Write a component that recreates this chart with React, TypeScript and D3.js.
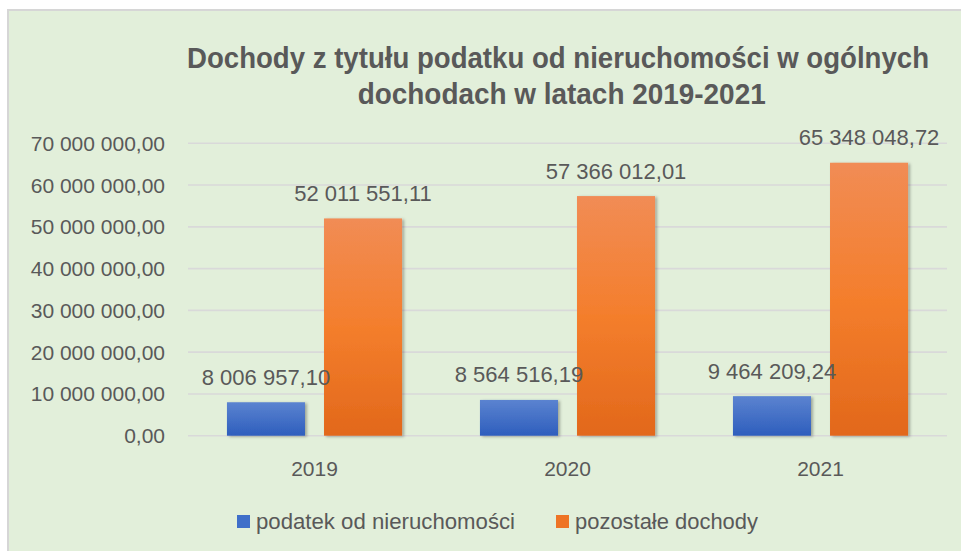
import React from "react";
import * as d3 from "d3";

const titleLines = ["Dochody z tytułu podatku od nieruchomości w ogólnych", "dochodach  w latach 2019-2021"];
const categories = ["2019", "2020", "2021"];
const seriesNames = ["podatek od nieruchomości", "pozostałe dochody"];
const podatekValues = [8006957.1, 8564516.19, 9464209.24];
const pozostaleValues = [52011551.11, 57366012.01, 65348048.72];
const yTicks = [0, 10000000, 20000000, 30000000, 40000000, 50000000, 60000000, 70000000];

const W = 961;
const H = 551;

function fmt(v: number): string {
  const [intPart, dec] = v.toFixed(2).split(".");
  const grouped = intPart.replace(/\B(?=(\d{3})+(?!\d))/g, " ");
  return grouped + "," + dec;
}

export default function App() {
  const x0 = d3.scaleBand<string>().domain(categories).range([188, 947]).paddingInner(0.308).paddingOuter(0.154);
  const x1 = d3.scaleBand<string>().domain(seriesNames).range([0, x0.bandwidth()]).paddingInner(0.196).paddingOuter(0);
  const y = d3.scaleLinear().domain([0, 70000000]).range([435.7, 143.3]);
  const seriesValues = [podatekValues, pozostaleValues];
  const fills = ["url(#gBlue)", "url(#gOrange)"];
  const legendColors = ["#3F6FC9", "#EE7425"];
  const font = "'Liberation Sans', Arial, sans-serif";
  const textColor = "#595959";

  return (
    <div style={{ position: "absolute", left: 0, top: 0, width: W, height: H }}>
      <svg width={W} height={H} style={{ display: "block" }}>
        <defs>
          <linearGradient id="gBlue" x1="0" y1="0" x2="0" y2="1">
            <stop offset="0%" stopColor="#5B83D0" />
            <stop offset="100%" stopColor="#2E5EBD" />
          </linearGradient>
          <linearGradient id="gOrange" x1="0" y1="0" x2="0" y2="1">
            <stop offset="0%" stopColor="#F18C55" />
            <stop offset="50%" stopColor="#F47E2C" />
            <stop offset="100%" stopColor="#E2681B" />
          </linearGradient>
          <filter id="shadow" x="-10%" y="-10%" width="130%" height="130%">
            <feDropShadow dx="2" dy="1" stdDeviation="1.5" floodColor="#000" floodOpacity="0.3" />
          </filter>
        </defs>
        <rect x={0} y={0} width={W} height={H} fill="#ffffff" />
        <rect x={8} y={10} width={W} height={H} fill="#E2EFDA" stroke="#D6D6D6" strokeWidth={2} />

        {titleLines.map((t, i) => (
          <text
            key={i}
            x={i === 0 ? 558 : 561.7}
            y={i === 0 ? 68 : 104}
            textAnchor="middle"
            fontFamily={font}
            fontWeight="bold"
            fontSize={29}
            fill={textColor}
            textLength={i === 0 ? 742 : 408}
            lengthAdjust="spacingAndGlyphs"
          >
            {t}
          </text>
        ))}

        {yTicks.map((t) => (
          <g key={t}>
            <line x1={188} x2={947} y1={y(t)} y2={y(t)} stroke="#D9D9D9" strokeWidth={1.6} />
            <text x={165} y={y(t)} textAnchor="end" dominantBaseline="central" fontFamily={font} fontSize={21} fill={textColor}>
              {fmt(t)}
            </text>
          </g>
        ))}

        {categories.map((c, ci) => (
          <g key={c} transform={`translate(${x0(c)},0)`}>
            {seriesNames.map((s, si) => {
              const v = seriesValues[si][ci];
              const bx = x1(s) as number;
              return (
                <g key={s}>
                  <rect x={bx} y={y(v)} width={x1.bandwidth()} height={y(0) - y(v)} fill={fills[si]} filter="url(#shadow)" />
                </g>
              );
            })}
            <text x={x0.bandwidth() / 2} y={468} textAnchor="middle" dominantBaseline="central" fontFamily={font} fontSize={21} fill={textColor}>
              {c}
            </text>
          </g>
        ))}

        {categories.map((c, ci) => (
          <g key={c + "-lbl"} transform={`translate(${x0(c)},0)`}>
            {seriesNames.map((s, si) => {
              const v = seriesValues[si][ci];
              const bx = x1(s) as number;
              return (
                <text
                  key={s}
                  x={bx + x1.bandwidth() / 2}
                  y={y(v) - 25}
                  textAnchor="middle"
                  dominantBaseline="central"
                  fontFamily={font}
                  fontSize={22}
                  fill={textColor}
                >
                  {fmt(v)}
                </text>
              );
            })}
          </g>
        ))}

        {seriesNames.map((s, i) => {
          const lx = i === 0 ? 237 : 556;
          return (
            <g key={s}>
              <rect x={lx} y={515} width={13} height={13} fill={legendColors[i]} />
              <text
                x={lx + 19}
                y={521.7}
                dominantBaseline="central"
                fontFamily={font}
                fontSize={22}
                fill={textColor}
                textLength={i === 0 ? 259 : 183}
                lengthAdjust="spacingAndGlyphs"
              >
                {s}
              </text>
            </g>
          );
        })}
      </svg>
    </div>
  );
}
